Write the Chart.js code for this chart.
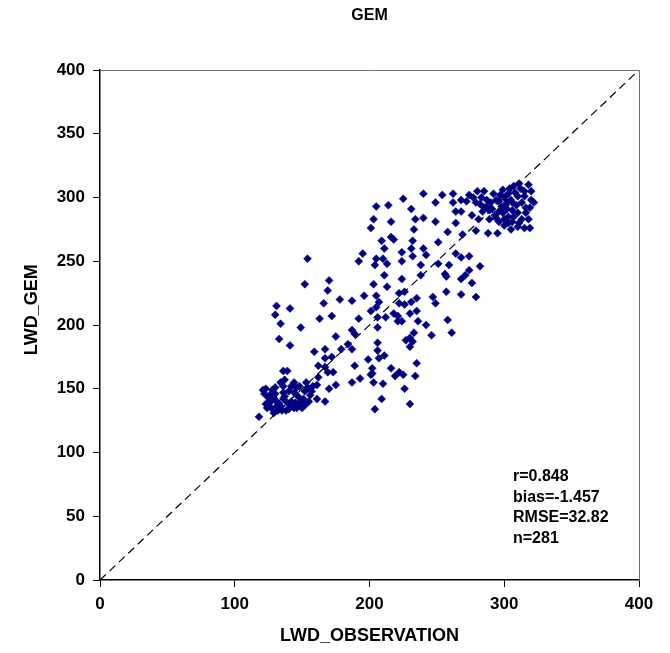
<!DOCTYPE html>
<html><head><meta charset="utf-8">
<script src="https://cdn.jsdelivr.net/npm/chart.js@4.4.0/dist/chart.umd.min.js"></script>
<style>html,body{margin:0;padding:0;background:#fff;}</style>
</head><body>
<canvas id="c" width="670" height="653"></canvas>
<script>
const chartTitle = 'GEM';
const xAxisTitle = 'LWD_OBSERVATION';
const yAxisTitle = 'LWD_GEM';
const statsLines = ['r=0.848', 'bias=-1.457', 'RMSE=32.82', 'n=281'];
const xTicks = [0, 100, 200, 300, 400];
const yTicks = [0, 50, 100, 150, 200, 250, 300, 350, 400];
const diagLine = [0, 400];

const obsX = [
225,240,214,231,216,234,240,249,233,216,218,209,251,232,211,224,231,232,240,242,210,224,238,264,268,274,251,259,282,274,211,238,256,257,271,224,276,268,249,
254,262,268,274,277,279,285,282,287,292,299,294,296,301,305,307,308,312,318,320,322,310,315,284,289,289,294,299,300,303,306,310,311,315,319,318,305,295,310,306,302,268,264,264,279,258,269,276,281,290,288,
154,152,170,205,203,201,195,192,205,204,213,203,213,
131,141,130,134,149,133,141,169,178,187,166,196,205,207,205,201,163,172,192,206,187,189,175,206,206,184,179,187,159,167,167,172,167,162,206,207,211,199,202,189,202,201,193,187,203,210,209,204,173,169,162,161,170,175,167,161,148,154,152,156,123,128,130,129,125,136,139,137,136,136,136,144,146,144,139,131,134,127,141,144,146,150,118,151,
222,226,235,247,249,257,268,279,222,226,231,212,218,221,221,224,230,235,236,242,258,261,246,233,230,227,232,230,235,216,222,225,219,234,226,230,
122,125,127,131,133,135,138,140,142,145,148,152,155,157,124,129,132,137,140,142,147,149,153,158,130,134,126,121,123,
297,300,303,306,309,313,316,320,283,287,291,296,300,303,307,313,316,319,285,293,298,304,311,315,280,272,262,296,302
];
const gemY = [
299,303,294,291,281,283,284,281,275,269,267,266,265,266,260,257,260,254,260,255,252,250,247,256,253,254,248,247,246,243,239,239,240,238,239,236,233,236,296,
302,303,298,302,300,296,305,295,293,303,306,298,297,294,298,309,304,307,310,298,296,301,301,289,290,283,284,288,283,285,281,288,280,276,276,283,275,272,277,290,291,289,289,280,274,273,271,286,283,296,272,
252,232,235,293,283,276,256,250,252,247,248,232,230,
215,213,208,201,198,189,184,227,220,219,217,223,223,218,214,211,205,207,205,206,196,193,191,198,186,185,181,181,179,181,174,175,167,168,180,174,176,173,166,168,162,161,158,155,155,154,142,134,163,163,159,153,150,153,140,142,152,151,148,145,150,149,146,143,139,164,164,157,152,147,142,155,151,147,139,136,136,135,138,135,135,135,128,142,
225,226,221,222,217,226,224,222,217,216,218,206,209,207,203,203,209,211,203,200,204,194,192,194,190,188,187,183,170,166,163,161,160,160,150,138,
146,143,140,140,138,133,133,134,140,139,137,137,140,148,135,131,133,144,148,152,144,140,155,152,151,155,145,149,138,
302,300,303,296,294,296,292,305,300,298,291,289,278,280,285,283,288,292,292,286,293,307,311,305,305,297,296,281,296
];

const FAMILY = "'Liberation Sans', Arial, sans-serif";
const points = obsX.map((x, i) => ({ x: x, y: gemY[i] }));

const overlay = {
  id: 'overlay',
  afterDraw(chart) {
    const { ctx, chartArea: a } = chart;
    ctx.save();
    ctx.strokeStyle = '#707070';
    ctx.lineWidth = 1;
    ctx.beginPath();
    ctx.moveTo(a.left, a.top + 0.5);
    ctx.lineTo(a.right + 0.5, a.top + 0.5);
    ctx.lineTo(a.right + 0.5, a.bottom);
    ctx.stroke();
    ctx.fillStyle = '#000';
    ctx.font = 'bold 16px ' + FAMILY;
    ctx.textAlign = 'center';
    ctx.textBaseline = 'middle';
    ctx.fillText(chartTitle, (a.left + a.right) / 2, 16);
    // y axis title
    ctx.save();
    ctx.translate(32, a.top + (a.bottom - a.top) * 0.47);
    ctx.rotate(-Math.PI / 2);
    ctx.font = 'bold 18px ' + FAMILY;
    ctx.fillText(yAxisTitle, 0, 0);
    ctx.restore();
    ctx.textAlign = 'left';
    ctx.font = 'bold 16px ' + FAMILY;
    statsLines.forEach((t, i) => ctx.fillText(t, a.left + 413, a.top + 407 + i * 20.5));
    ctx.restore();
  }
};

const tickFont = { family: FAMILY, size: 17, weight: 'bold' };
const titleFont = { family: FAMILY, size: 18, weight: 'bold' };

new Chart(document.getElementById('c'), {
  type: 'scatter',
  data: {
    datasets: [
      {
        type: 'scatter',
        data: points,
        backgroundColor: '#000080',
        borderColor: '#000080',
        borderWidth: 0.5,
        pointStyle: 'rectRot',
        pointRadius: 4,
        order: 1
      },
      {
        type: 'line',
        data: diagLine.map(v => ({ x: v, y: v })),
        borderColor: '#000',
        borderWidth: 1.2,
        borderDash: [8, 5],
        pointRadius: 0,
        fill: false,
        order: 2
      }
    ]
  },
  options: {
    responsive: false,
    animation: false,
    layout: { padding: { top: 70, right: 31, bottom: 0, left: 0 } },
    plugins: { legend: { display: false }, tooltip: { enabled: false }, title: { display: false } },
    scales: {
      x: {
        type: 'linear', min: 0, max: 400,
        afterBuildTicks: s => { s.ticks = xTicks.map(v => ({ value: v })); },
        afterFit: s => { s.height = 73; },
        grid: { drawOnChartArea: false, drawTicks: true, tickLength: 7, color: '#000' },
        border: { display: true, color: '#000', width: 1.5 },
        ticks: { color: '#000', font: tickFont, padding: 7, maxRotation: 0 },
        title: { display: true, text: xAxisTitle, color: '#000', font: titleFont, padding: { top: 4, bottom: 6 } }
      },
      y: {
        type: 'linear', min: 0, max: 400,
        afterBuildTicks: s => { s.ticks = yTicks.map(v => ({ value: v })); },
        afterFit: s => { s.width = 100; },
        grid: { drawOnChartArea: false, drawTicks: true, tickLength: 7, color: '#000' },
        border: { display: true, color: '#000', width: 1.5 },
        ticks: { color: '#000', font: tickFont, padding: 8 },
        title: { display: false }
      }
    }
  },
  plugins: [overlay]
});
</script>
</body></html>
